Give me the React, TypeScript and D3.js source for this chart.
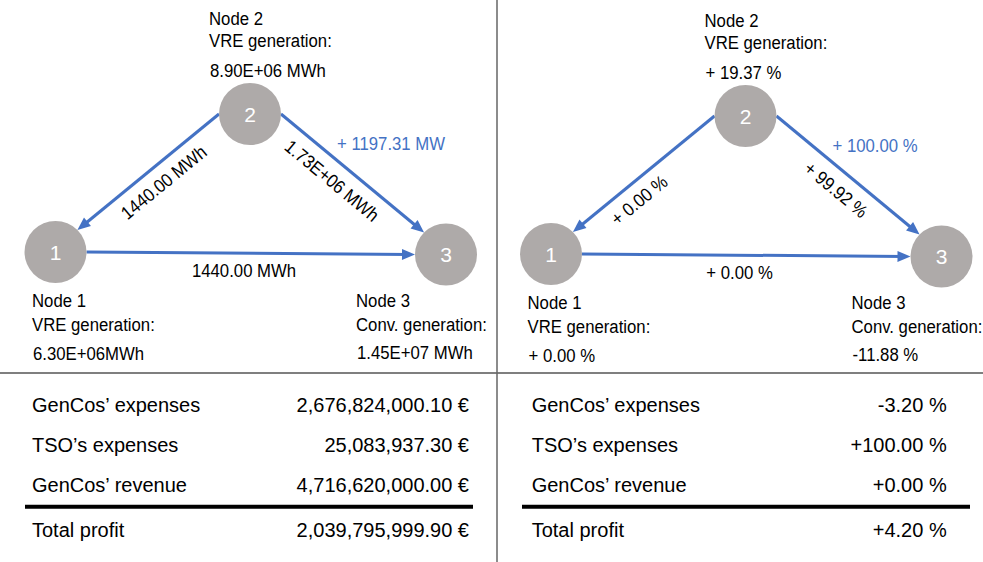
import React from "react";
import * as d3 from "d3";

// ---------- data ----------
const nodeIds = ["1", "2", "3"];
const nodeRoles = ["VRE generation:", "VRE generation:", "Conv. generation:"];
const baseGeneration = ["6.30E+06MWh", "8.90E+06 MWh", "1.45E+07 MWh"];
const changeGeneration = ["+ 0.00 %", "+ 19.37 %", "-11.88 %"];
const flowEdges: [string, string][] = [["2", "1"], ["2", "3"], ["1", "3"]];
const baseFlows = ["1440.00 MWh", "1.73E+06 MWh", "1440.00 MWh"];
const changeFlows = ["+ 0.00 %", "+ 99.92 %", "+ 0.00 %"];
const baseCapacity = "+ 1197.31 MW";
const changeCapacity = "+ 100.00 %";
const tableRows = ["GenCos\u2019 expenses", "TSO\u2019s expenses", "GenCos\u2019 revenue"];
const baseValues = ["2,676,824,000.10 \u20ac", "25,083,937.30 \u20ac", "4,716,620,000.00 \u20ac"];
const changeValues = ["-3.20 %", "+100.00 %", "+0.00 %"];
const totalLabel = "Total profit";
const baseTotal = "2,039,795,999.90 \u20ac";
const changeTotal = "+4.20 %";

// ---------- layout ----------
const W = 983;
const H = 562;
const BLUE = "#4472C4";
const NODE_FILL = "#AEAAA9";
const FONT = "'Liberation Sans', Arial, sans-serif";
const NODE_R = 31;
const SX = 0.9;
const FS = 18.6;

const nodePos: Record<string, [number, number]> = {
  "1": [55.5, 252],
  "2": [250, 114],
  "3": [446, 254.5],
};
// angle (deg) on the circle where each edge leaves / arrives
const edgeAngles: [number, number][] = [[180, -45], [0, -135], [0, 180]];
// label offsets relative to node: [dx, line1 dy, line2 dy, line3 dy]
const nodeLabelOff: Record<string, [number, number, number, number]> = {
  "1": [-23.5, 55, 79, 108],
  "2": [-41, -89, -67, -37.5],
  "3": [-90, 52.5, 76, 104],
};

const panels = [
  { ox: 0, oy: 0, gen: baseGeneration, flows: baseFlows, cap: baseCapacity, lbl: [[0.47, 18], [0.44, 19], [0.48, 17.5]] },
  { ox: 495.5, oy: 2, gen: changeGeneration, flows: changeFlows, cap: changeCapacity, lbl: [[0.61, 17.5], [0.5, 19], [0.48, 17.5]] },
];

const tables = [
  { lx: 32, vx: 469, l0: 25, l1: 473, vals: baseValues, total: baseTotal },
  { lx: 531.7, vx: 946.7, l0: 522, l1: 970, vals: changeValues, total: changeTotal },
];

function ST({ x, y, children, anchor = "start", rot = 0, fill = "#000", base }: any) {
  return (
    <text
      transform={`translate(${x},${y}) rotate(${rot}) scale(${SX},1)`}
      textAnchor={anchor}
      dominantBaseline={base}
      fontFamily={FONT}
      fontSize={FS}
      fill={fill}
    >
      {children}
    </text>
  );
}

function Panel({ p, idx }: any) {
  const x = d3.scaleLinear().domain([0, 1]).range([p.ox, p.ox + 1]);
  const y = d3.scaleLinear().domain([0, 1]).range([p.oy, p.oy + 1]);
  const pos = (id: string): [number, number] => [x(nodePos[id][0]), y(nodePos[id][1])];
  const onCircle = (id: string, a: number): [number, number] => {
    const [cx, cy] = pos(id);
    const r = (a * Math.PI) / 180;
    return [cx + NODE_R * Math.cos(r), cy + NODE_R * Math.sin(r)];
  };
  const line = d3.line();
  return (
    <g>
      {flowEdges.map(([s, t], i) => {
        const a = onCircle(s, edgeAngles[i][0]);
        const b = onCircle(t, edgeAngles[i][1]);
        const dx = b[0] - a[0];
        const dy = b[1] - a[1];
        const len = Math.hypot(dx, dy);
        const ux = dx / len;
        const uy = dy / len;
        // perpendicular pointing downward
        let px = -uy, py = ux;
        if (py < 0) { px = -px; py = -py; }
        const [tt, off] = p.lbl[i];
        const lx = a[0] + dx * tt + px * off;
        const ly = a[1] + dy * tt + py * off;
        let ang = (Math.atan2(dy, dx) * 180) / Math.PI;
        if (ang > 90) ang -= 180;
        if (ang < -90) ang += 180;
        return (
          <g key={i}>
            <path d={line([a, [b[0] - ux * 6, b[1] - uy * 6]]) || ""} stroke={BLUE} strokeWidth={3} fill="none" />
            <path
              d={`M${b[0]},${b[1]} L${b[0] - ux * 13 - uy * 5.5},${b[1] - uy * 13 + ux * 5.5} L${b[0] - ux * 13 + uy * 5.5},${b[1] - uy * 13 - ux * 5.5} Z`}
              fill={BLUE}
            />
            <ST x={lx} y={ly} rot={Math.abs(ang) < 2 ? 0 : ang} anchor="middle" base="central">
              {p.flows[i]}
            </ST>
          </g>
        );
      })}
      {nodeIds.map((id, i) => {
        const [cx, cy] = pos(id);
        const o = nodeLabelOff[id];
        return (
          <g key={id}>
            <circle cx={cx} cy={cy} r={NODE_R} fill={NODE_FILL} />
            <text x={cx} y={cy + 7.5} textAnchor="middle" fontFamily={FONT} fontSize={21} fill="#fff">
              {id}
            </text>
            <ST x={cx + o[0]} y={cy + o[1]}>{`Node ${id}`}</ST>
            <ST x={cx + o[0]} y={cy + o[2]}>{nodeRoles[i]}</ST>
            <ST x={cx + o[0] + 1} y={cy + o[3]}>{p.gen[i]}</ST>
          </g>
        );
      })}
      <ST x={pos("2")[0] + 87} y={pos("2")[1] + 36} fill={BLUE}>{p.cap}</ST>
    </g>
  );
}

export default function App() {
  const rowY = d3.scaleLinear().domain([0, 2]).range([411.7, 491.7]);
  return (
    <svg
      width={W}
      height={H}
      viewBox={`0 0 ${W} ${H}`}
      style={{ position: "absolute", left: 0, top: 0, background: "#fff" }}
    >
      <rect x={0} y={0} width={W} height={H} fill="#fff" />
      {panels.map((p, i) => (
        <Panel key={i} p={p} idx={i} />
      ))}
      <line x1={0} x2={W} y1={373} y2={373} stroke="#555" strokeWidth={1.5} />
      <line x1={497} x2={497} y1={0} y2={H} stroke="#666" strokeWidth={1.5} />
      {tables.map((t, k) => (
        <g key={k} fontFamily={FONT} fontSize={20} fill="#000">
          {tableRows.map((r, i) => (
            <g key={i}>
              <text x={t.lx} y={rowY(i)}>{r}</text>
              <text x={t.vx} y={rowY(i)} textAnchor="end">{t.vals[i]}</text>
            </g>
          ))}
          <line x1={t.l0} x2={t.l1} y1={506.7} y2={506.7} stroke="#000" strokeWidth={4} />
          <text x={t.lx} y={536.7}>{totalLabel}</text>
          <text x={t.vx} y={536.7} textAnchor="end">{t.total}</text>
        </g>
      ))}
    </svg>
  );
}
